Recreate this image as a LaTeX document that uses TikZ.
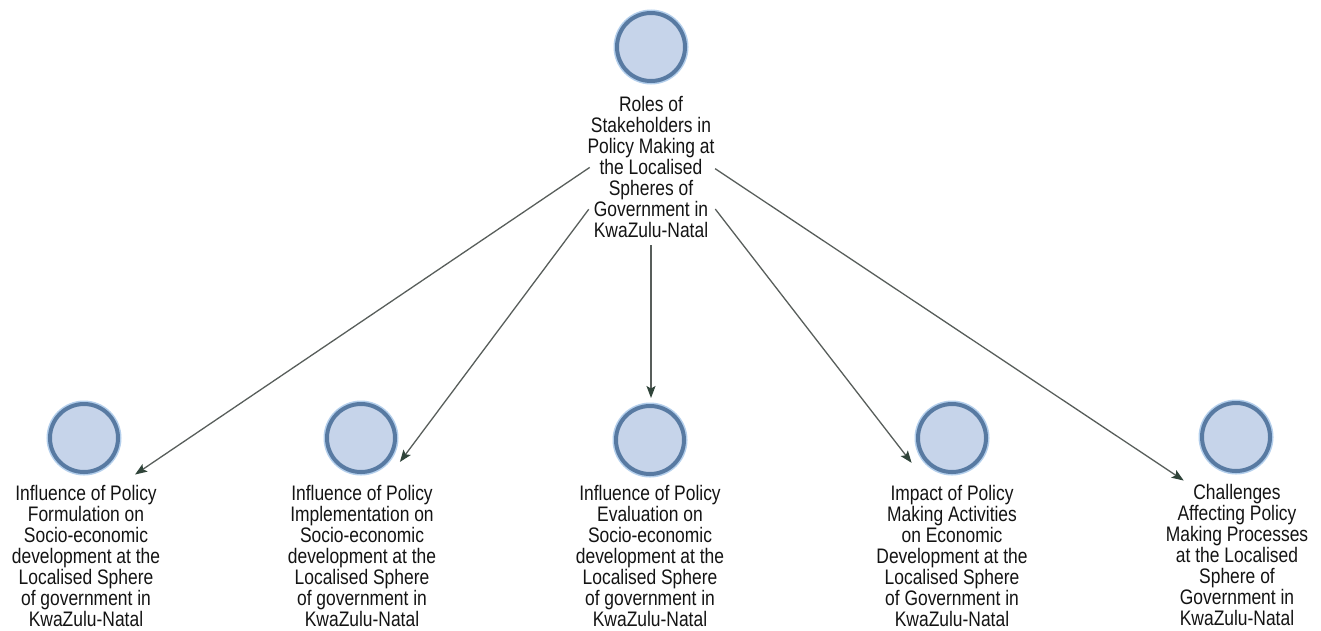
\documentclass[tikz,border=0pt]{standalone}
\usepackage{fontspec}
\setmainfont{Liberation Sans}[FakeStretch=0.83]
\usetikzlibrary{arrows.meta}

\definecolor{ringblue}{RGB}{88,122,162}
\definecolor{haloblue}{RGB}{180,207,236}
\definecolor{fillblue}{RGB}{198,212,234}
\definecolor{linkgrey}{RGB}{88,94,91}
\definecolor{tipgreen}{RGB}{48,68,58}
\definecolor{txt}{RGB}{20,20,20}

\begin{document}
\begin{tikzpicture}[x=1pt,y=-1pt,
  topic/.style={circle, minimum size=68pt, inner sep=0pt, fill=fillblue,
    draw=ringblue, line width=4pt,
    preaction={draw=haloblue, line width=7pt}},
  caption/.style={align=center, anchor=north, inner sep=0pt, text=txt,
    font=\fontsize{21}{21}\selectfont},
  link/.style={draw=linkgrey, line width=1.3pt,
    -{Stealth[length=12pt,width=9pt,inset=2.5pt,color=tipgreen]}}
]
\useasboundingbox[fill=white] (0,0) rectangle (1321,630);

% central theme
\node[topic] (root) at (651,47) {};
\node[caption] (rootlbl) at (651,96)
  {Roles of\\Stakeholders in\\Policy Making at\\the Localised\\Spheres of\\Government in\\KwaZulu-Natal};

% sub-themes
\node[topic] (c1) at (84,438) {};
\node[caption] (l1) at (86,485)
  {Influence of Policy\\Formulation on\\Socio-economic\\development at the\\Localised Sphere\\of government in\\KwaZulu-Natal};

\node[topic] (c2) at (361,438) {};
\node[caption] (l2) at (362,485)
  {Influence of Policy\\Implementation on\\Socio-economic\\development at the\\Localised Sphere\\of government in\\KwaZulu-Natal};

\node[topic] (c3) at (650,440) {};
\node[caption] (l3) at (650,485)
  {Influence of Policy\\Evaluation on\\Socio-economic\\development at the\\Localised Sphere\\of government in\\KwaZulu-Natal};

\node[topic] (c4) at (952,438) {};
\node[caption] (l4) at (952,485)
  {Impact of Policy\\Making Activities\\on Economic\\Development at the\\Localised Sphere\\of Government in\\KwaZulu-Natal};

\node[topic] (c5) at (1236,437) {};
\node[caption] (l5) at (1237,484)
  {Challenges\\Affecting Policy\\Making Processes\\at the Localised\\Sphere of\\Government in\\KwaZulu-Natal};

% centres of each circle-and-caption group
\coordinate (g0) at (651,126);
\coordinate (g1) at (87,507);
\coordinate (g2) at (361,514);
\coordinate (g3) at (651,512);
\coordinate (g4) at (952,515);
\coordinate (g5) at (1237,516);

% links from the central theme
\draw[link, shorten <=74pt, shorten >=58pt] (g0) -- (g1);
\draw[link, shorten <=104pt, shorten >=65pt] (g0) -- (g2);
\draw[link, shorten <=119pt, shorten >=114pt] (g0) -- (g3);
\draw[link, shorten <=105pt, shorten >=66pt] (g0) -- (g4);
\draw[link, shorten <=77pt, shorten >=64pt] (g0) -- (g5);
\end{tikzpicture}
\end{document}
